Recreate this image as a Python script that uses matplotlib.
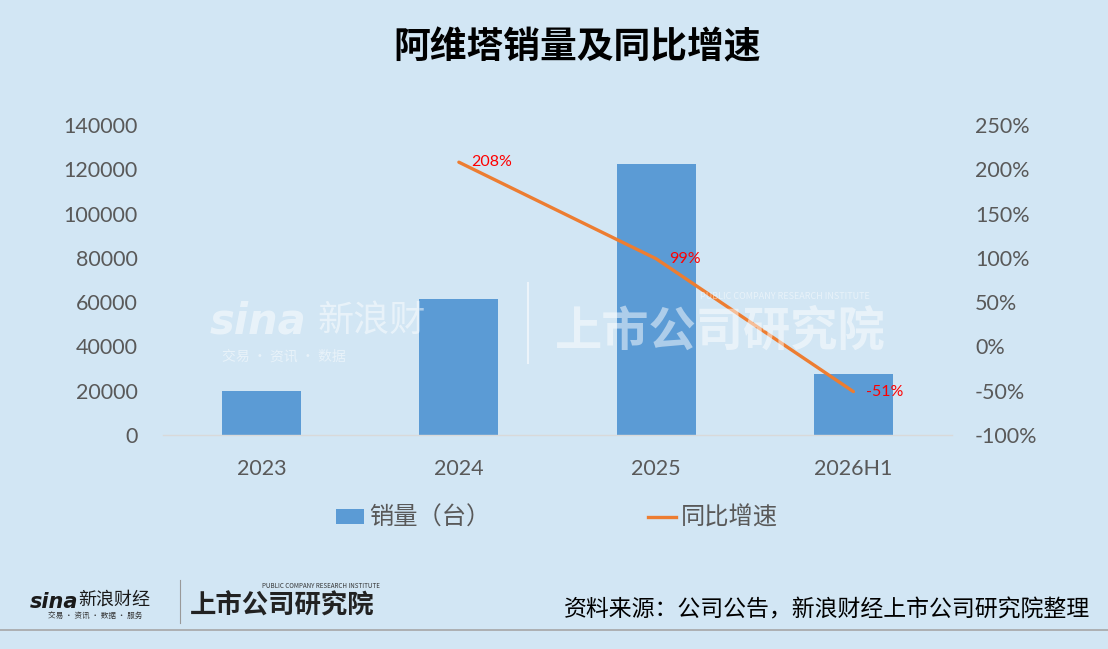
import matplotlib
matplotlib.use("Agg")
import matplotlib.pyplot as plt
from matplotlib.lines import Line2D
from matplotlib.patches import Patch

plt.rcParams['font.family'] = ['Noto Sans CJK SC', 'DejaVu Sans']

categories = ["2023", "2024", "2025", "2026H1"]
sales = [20000, 61600, 122600, 27600]
growth = [None, 208, 99, -51]
growth_labels = ["", "208%", "99%", "-51%"]
left_ticks = [0, 20000, 40000, 60000, 80000, 100000, 120000, 140000]
right_ticks = [-100, -50, 0, 50, 100, 150, 200, 250]

BG = "#d2e6f4"
BAR = "#5b9bd5"
LINE = "#ed7d31"
TXT = "#595959"
NUMFONT = ['Lato', 'DejaVu Sans']

fig = plt.figure(figsize=(11.08, 6.49), dpi=100)
fig.patch.set_facecolor(BG)

ax = fig.add_axes([163/1108, 1-435/649, (952-163)/1108, 310/649])
ax.set_facecolor("none")
x = list(range(len(categories)))
ax.bar(x, sales, width=0.4, color=BAR, zorder=2)
ax.set_xlim(-0.5, 3.5)
ax.set_ylim(0, 140000)
ax.set_yticks(left_ticks)
ax.set_yticklabels([str(v) for v in left_ticks], fontsize=15.5, color=TXT, family=NUMFONT)
ax.set_xticks(x)
ax.set_xticklabels(categories, fontsize=15.5, color=TXT, family=NUMFONT)
ax.tick_params(axis='y', length=0, pad=18)
ax.tick_params(axis='x', length=0, pad=17)
for s in ['top', 'right', 'left']:
    ax.spines[s].set_visible(False)
ax.spines['bottom'].set_color("#d9d9d9")
ax.spines['bottom'].set_linewidth(1)

ax2 = ax.twinx()
ax2.set_ylim(-100, 250)
ax2.set_yticks(right_ticks)
ax2.set_yticklabels([f"{v}%" for v in right_ticks], fontsize=15.5, color=TXT, family=NUMFONT)
ax2.tick_params(axis='y', length=0, pad=16.5)
for s in ax2.spines.values():
    s.set_visible(False)
gx = [i for i, g in zip(x, growth) if g is not None]
gy = [g for g in growth if g is not None]
ax2.plot(gx, gy, color=LINE, lw=2.4, zorder=3, solid_capstyle='round')
for i, g, lab in zip(x, growth, growth_labels):
    if g is not None:
        ax2.annotate(lab, (i, g), xytext=(9, 0), textcoords='offset points',
                     color='#ff0000', fontsize=11.5, family=NUMFONT,
                     ha='left', va='center')

# watermark
wm = dict(color='white', alpha=0.5, zorder=1)
fig.text(210/1108, 1-322/649, "sina", fontsize=30, fontweight='bold', style='italic',
         family=['DejaVu Sans'], va='center', **wm)
fig.text(318/1108, 1-322/649, "新浪财", fontsize=26, va='center', **wm)
fig.text(222/1108, 1-357/649, "交易 · 资讯 · 数据", fontsize=10, va='center', **wm)
fig.add_artist(Line2D([528/1108, 528/1108], [1-283/649, 1-363/649], color='white', alpha=0.6, lw=1.5))
fig.text(555/1108, 1-332/649, "上市公司研究院", fontsize=34, fontweight='bold', style='italic',
         va='center', **wm)
fig.text(700/1108, 1-296/649, "PUBLIC COMPANY RESEARCH INSTITUTE", fontsize=6.5, va='center', **wm)

# title
fig.text(577/1108, 1-48/649, "阿维塔销量及同比增速", fontsize=26.5, fontweight='heavy', color='black',
         ha='center', va='center')

# legend
handles = [Patch(facecolor=BAR, edgecolor='none'), Line2D([0], [0], color=LINE, lw=2.4)]
leg = fig.legend(handles, ["销量（台）", "同比增速"], loc='center', bbox_to_anchor=(557/1108, 1-518/649),
                 ncol=2, frameon=False, prop={'size': 17.5, 'weight': 'light'},
                 columnspacing=6.5, handlelength=1.15, handleheight=0.6,
                 handletextpad=0.2, labelcolor=TXT)

# footer
fig.add_artist(Line2D([0, 1], [1-630/649, 1-630/649], color='#a6a6a6', lw=1.2))
fig.text(1090/1108, 1-610/649, "资料来源：公司公告，新浪财经上市公司研究院整理", fontsize=16.5,
         color='black', ha='right', va='center')
fig.text(30/1108, 1-602/649, "sina", fontsize=15, fontweight='bold', style='italic',
         family=['DejaVu Sans'], color='#1a1a1a', va='center')
fig.text(78/1108, 1-600/649, "新浪财经", fontsize=13, color='#1a1a1a', va='center')
fig.text(48/1108, 1-616/649, "交易 · 资讯 · 数据 · 服务", fontsize=5.5, color='#333333', va='center')
fig.add_artist(Line2D([180/1108, 180/1108], [1-580/649, 1-623/649], color='#999999', lw=0.8))
fig.text(190/1108, 1-606/649, "上市公司研究院", fontsize=19, fontweight='bold', style='italic',
         color='#222222', va='center')
fig.text(262/1108, 1-586/649, "PUBLIC COMPANY RESEARCH INSTITUTE", fontsize=4.5, color='#333333', va='center')

fig.savefig("out.png", dpi=100, facecolor=BG)
